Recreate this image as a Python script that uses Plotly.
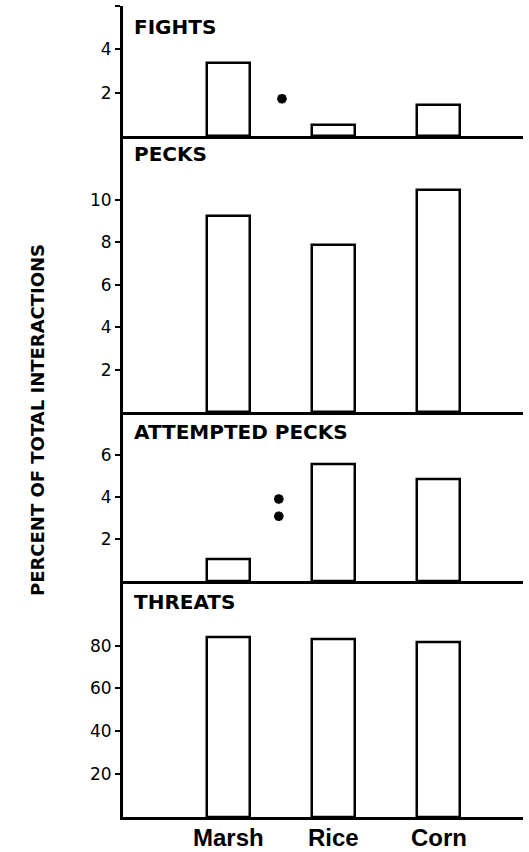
import plotly.graph_objects as go
from plotly.subplots import make_subplots

categories = ["Marsh", "Rice", "Corn"]
panel_titles = ["FIGHTS", "PECKS", "ATTEMPTED PECKS", "THREATS"]
fights = [3.35, 0.5, 1.44]
pecks = [9.23, 7.87, 10.46]
attempted_pecks = [1.06, 5.56, 4.82]
threats = [83.9, 83.1, 81.4]
series = [fights, pecks, attempted_pecks, threats]

y_ranges = [[0, 6], [0, 13], [0, 8], [0, 110]]
y_tickvals = [[2, 4, 6], [2, 4, 6, 8, 10], [2, 4, 6], [20, 40, 60, 80]]
y_ticktext = [["2", "4", ""], ["2", "4", "6", "8", "10"], ["2", "4", "6"], ["20", "40", "60", "80"]]

# significance marks: (panel index, x position between category indices, y values)
sig_marks = [(0, 0.51, [1.72]), (2, 0.48, [3.9, 3.08])]

y_title = "PERCENT OF TOTAL INTERACTIONS"

positions = list(range(len(categories)))
heights = [130, 276.5, 169, 235.8]

fig = make_subplots(rows=4, cols=1, shared_xaxes=True, vertical_spacing=0,
                    row_heights=heights)

for i, vals in enumerate(series):
    fig.add_trace(go.Bar(x=positions, y=vals, width=0.41,
                         marker=dict(color="white", line=dict(color="black", width=2.5)),
                         showlegend=False, hoverinfo="skip"), row=i + 1, col=1)
    fig.update_yaxes(range=y_ranges[i], tickvals=y_tickvals[i], ticktext=y_ticktext[i],
                     showline=True, linecolor="black", linewidth=3,
                     ticks="outside", ticklen=5, tickwidth=2, tickcolor="black",
                     showgrid=False, zeroline=False,
                     tickfont=dict(family="DejaVu Sans", size=17, color="black"),
                     row=i + 1, col=1)
    fig.update_xaxes(range=[-1.0, 2.8], showline=True, linecolor="black", linewidth=3,
                     showgrid=False, zeroline=False, ticks="",
                     showticklabels=False, row=i + 1, col=1)

for p, xv, yvals in sig_marks:
    fig.add_trace(go.Scatter(x=[xv] * len(yvals), y=yvals, mode="markers",
                             marker=dict(symbol="asterisk", size=8, color="black",
                                         line=dict(color="black", width=3)),
                             showlegend=False, hoverinfo="skip"), row=p + 1, col=1)

title_offsets = [21, 18, 20, 21]
for i, t in enumerate(panel_titles):
    sfx = "" if i == 0 else str(i + 1)
    fig.add_annotation(text=t, xref=f"x{sfx} domain", yref=f"y{sfx} domain",
                       x=0.0225, y=1 - title_offsets[i] / heights[i],
                       xanchor="left", yanchor="middle", showarrow=False,
                       font=dict(family="DejaVu Sans", size=20, color="black", weight="bold"))

for pos, cat in zip(positions, categories):
    fig.add_annotation(text=cat, xref="x4", yref="y4 domain", x=pos, y=0,
                       yanchor="top", yshift=-5, showarrow=False,
                       font=dict(family="Liberation Sans", size=24, color="black", weight="bold"))

fig.add_annotation(text=y_title, xref="paper", yref="paper", x=-0.214, y=0.49,
                   textangle=-90, showarrow=False, xanchor="center", yanchor="middle",
                   font=dict(family="DejaVu Sans", size=18, color="black", weight="bold"))

fig.update_layout(width=529, height=852, margin=dict(l=123, r=6, t=6, b=35),
                  plot_bgcolor="white", paper_bgcolor="white", bargap=0)

fig.write_html("out.html", config={"displayModeBar": False},
               post_script="document.body.style.margin='0';")
